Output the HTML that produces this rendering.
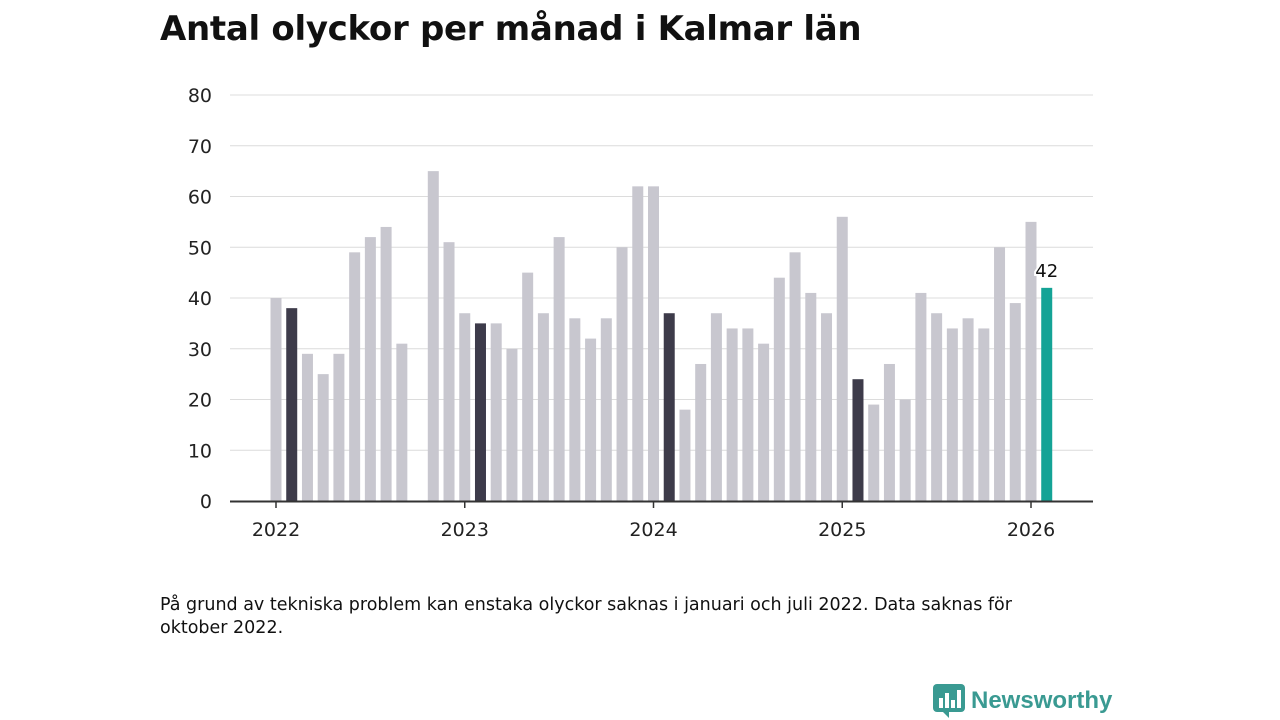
<!DOCTYPE html>
<html><head><meta charset="utf-8"><style>
body{margin:0;width:1280px;height:720px;background:#fff;font-family:"DejaVu Sans","Liberation Sans",sans-serif;overflow:hidden;position:relative}
h1{position:absolute;left:160px;top:9px;margin:0;font-size:34px;font-weight:bold;color:#111;letter-spacing:-0.3px}
.note{position:absolute;left:160px;top:594px;font-size:17.5px;color:#111;line-height:23px;width:910px}
.logo{position:absolute;left:933px;top:684px;display:flex;align-items:center;gap:6px;color:#3a9a92;font-weight:bold;font-size:24px;font-family:"Liberation Sans",sans-serif}
</style></head><body>
<h1>Antal olyckor per månad i Kalmar län</h1>
<svg id="chart" width="1280" height="720" style="position:absolute;left:0;top:0"></svg>
<div class="note">På grund av tekniska problem kan enstaka olyckor saknas i januari och juli 2022. Data saknas för oktober 2022.</div>
<div class="logo">
<svg width="32" height="34" viewBox="0 0 32 34"><rect x="0" y="0" width="32" height="28" rx="4" fill="#3a9a92"/><path d="M10 28 L16 34 L16 28Z" fill="#3a9a92"/><rect x="6" y="14" width="4" height="10" fill="#fff"/><rect x="12" y="9" width="4" height="15" fill="#fff"/><rect x="18" y="16" width="4" height="8" fill="#fff"/><rect x="24" y="6" width="4" height="18" fill="#fff"/></svg>
<span>Newsworthy</span></div>
<script>
const years=[2022,2023,2024,2025,2026];
const values=[40,38,29,25,29,49,52,54,31,null,65,51,
37,35,35,30,45,37,52,36,32,36,50,62,
62,37,18,27,37,34,34,31,44,49,41,37,
56,24,19,27,20,41,37,34,36,34,50,39,
55,42];
const yTicks=[0,10,20,30,40,50,60,70,80];
const svg=document.getElementById('chart');
const NS='http://www.w3.org/2000/svg';
const x0=276, monthW=(1031-276)/48, y0=501, yScale=(501-95)/80;
const xS=i=>x0+i*monthW, yS=v=>y0-v*yScale;
function el(t,a){const e=document.createElementNS(NS,t);for(const k in a)e.setAttribute(k,a[k]);svg.appendChild(e);return e;}
yTicks.forEach(t=>{
 if(t>0){const g=el('line',{x1:230,x2:1093,y1:yS(t),y2:yS(t),stroke:'#dcdcdc','stroke-width':1});
 
 }
 const l=el('text',{x:212,y:yS(t)+7,'text-anchor':'end','font-size':19,fill:'#222'});
 l.textContent=t;
 
 
});
values.forEach((v,i)=>{
 if(v==null)return;
 const last=i===values.length-1, feb=i%12===1;
 const r=el('rect',{x:xS(i)-5.5,y:yS(v),width:11,height:v*yScale,fill:last?'#14a396':(feb?'#3d3b4a':'#c8c7cf')});
 
 
 if(last){const t=el('text',{x:xS(i),y:yS(v)-11,'text-anchor':'middle','font-size':18,fill:'#111',stroke:'#fff','stroke-width':4,'paint-order':'stroke'});
 t.textContent=v;
 
 }
});
const ax=el('line',{x1:230,x2:1093,y1:y0+0.5,y2:y0+0.5,stroke:'#333','stroke-width':2});


years.forEach((yr,k)=>{
 const x=xS(k*12);
 const tk=el('line',{x1:x,x2:x,y1:y0,y2:y0+7,stroke:'#333','stroke-width':1.5});
 
 
 const t=el('text',{x:x,y:536,'text-anchor':'middle','font-size':19,fill:'#222'});
 t.textContent=yr;
 
 
});
</script>
</body></html>
